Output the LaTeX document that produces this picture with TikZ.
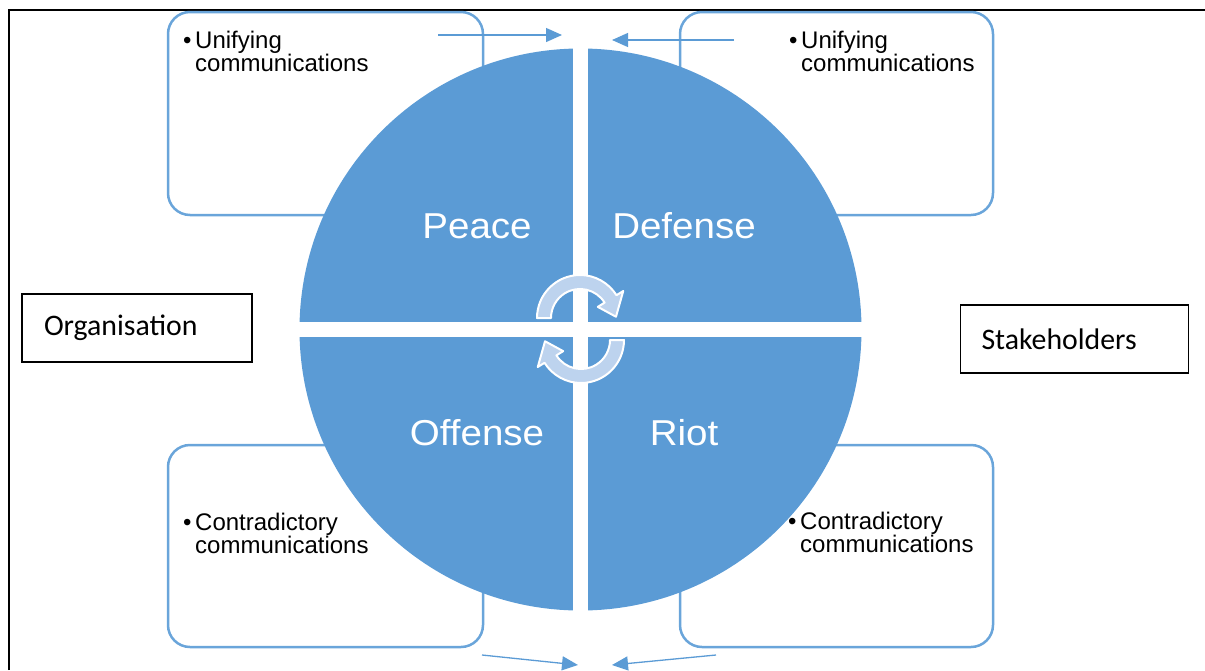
\documentclass[tikz,border=0pt]{standalone}
\usepackage{fontspec}
\usepackage{graphicx}
\setmainfont{Liberation Sans}
\newfontfamily\calibrifont{Carlito}
\usetikzlibrary{arrows.meta,positioning}
\definecolor{wheelblue}{HTML}{5B9BD5}
\definecolor{boxblue}{HTML}{6AA5DA}
\definecolor{turnfill}{HTML}{BDD3EE}
\newcommand{\commitem}[2]{\makebox[12pt][l]{\textbullet}#1\\\hspace*{12pt}#2}
\newcommand{\quadword}[1]{\scalebox{1.07}[1]{#1}}
\tikzset{
  commbox/.style={draw=boxblue, line width=2.5pt, rounded corners=22pt, minimum width=315pt, minimum height=203pt, inner sep=0pt},
  commtext/.style={anchor=base west, text width=200pt, align=left, inner sep=0pt, font=\fontsize{24}{23}\selectfont},
  partybox/.style={draw=black, line width=1.2pt, minimum height=68pt, minimum width=230pt, inner xsep=22pt, text width=186pt, align=left, font=\calibrifont\fontsize{29.8}{31}\selectfont},
  quadlabel/.style={text=white, anchor=base, font=\fontsize{36}{40}\selectfont},
  feedarrow/.style={draw=wheelblue, line width=1.3pt, -{Triangle[length=16pt,width=14pt]}},
  turnarrow/.style={fill=turnfill, draw=white, line width=2pt, line join=round}
}
\begin{document}
\begin{tikzpicture}[x=1pt, y=-1pt]
  \useasboundingbox (0,0) rectangle (1205,670);
  % frame
  \draw[line width=2.5pt] (9,670) -- (9,10) -- (1205,10);

  % communication boxes
  \node[commbox] (ulbox) at (325.5,113.5) {};
  \node[commbox, minimum width=313pt] (urbox) at (836.5,113.5) {};
  \node[commbox, minimum height=202pt] (llbox) at (325.5,546) {};
  \node[commbox, minimum width=313pt, minimum height=202pt] (lrbox) at (836.5,546) {};
  \node[commtext] (ultext) at (183,48) {\commitem{Unifying}{communications}};
  \node[commtext] (urtext) at (789,48) {\commitem{Unifying}{communications}};
  \node[commtext] (lltext) at (183,530) {\commitem{Contradictory}{communications}};
  \node[commtext] (lrtext) at (788,529) {\commitem{Contradictory}{communications}};

  % wheel
  \node[circle, fill=wheelblue, minimum size=562pt, inner sep=0pt] (wheel) at (580.5,329.5) {};
  \draw[white, line width=15pt] (wheel.north) -- (wheel.south);
  \draw[white, line width=15pt] (wheel.west) -- (wheel.east);
  \node[quadlabel] (peace) at (477,238) {\quadword{Peace}};
  \node[quadlabel] (defense) at (684,238) {\quadword{Defense}};
  \node[quadlabel] (offense) at (477,445) {\quadword{Offense}};
  \node[quadlabel] (riot) at (684,445) {\quadword{Riot}};

  % turning arrows
  \begin{scope}[shift={(580,318)}]
    \path[turnarrow] (180:43) arc[start angle=180, end angle=328, radius=43] -- (328:51) -- (358:36)
      -- (328:21) -- (328:29) arc[start angle=328, end angle=180, radius=29] -- cycle;
  \end{scope}
  \begin{scope}[shift={(581,340)}]
    \path[turnarrow] (0:43) arc[start angle=0, end angle=148, radius=43] -- (148:51) -- (178:36)
      -- (148:21) -- (148:29) arc[start angle=148, end angle=0, radius=29] -- cycle;
  \end{scope}

  % parties
  \node[partybox] (organisation) at (137,328) {Organisation};
  \node[partybox, minimum width=228pt, inner xsep=21pt] (stakeholders) at (1074.5,339) {Stakeholders};

  % feed arrows
  \coordinate (ulstart) at (438,35);
  \coordinate (ulend) at (562,35);
  \coordinate (urstart) at (734,40);
  \coordinate (urend) at (612,40);
  \coordinate (llstart) at (482,655);
  \coordinate (llend) at (578,665);
  \coordinate (lrstart) at (716,655);
  \coordinate (lrend) at (612,665);
  \draw[feedarrow] (ulstart) -- (ulend);
  \draw[feedarrow] (urstart) -- (urend);
  \draw[feedarrow] (llstart) -- (llend);
  \draw[feedarrow] (lrstart) -- (lrend);
\end{tikzpicture}
\end{document}
